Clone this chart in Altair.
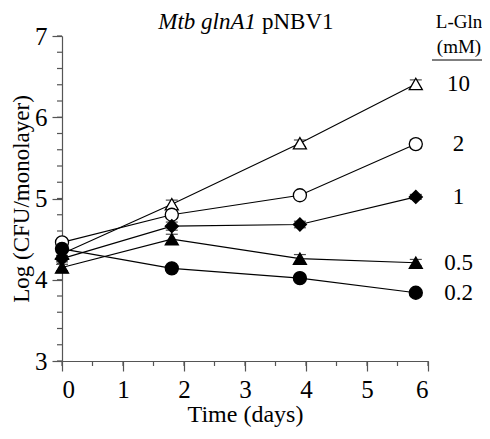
import altair as alt
import pandas as pd

days = [0, 1.8, 3.9, 5.8]
series = ["10", "2", "1", "0.5", "0.2"]
gln10 = [4.32, 4.93, 5.68, 6.41]
gln2 = [4.46, 4.80, 5.04, 5.67]
gln1 = [4.26, 4.66, 4.68, 5.02]
gln05 = [4.15, 4.50, 4.26, 4.21]
gln02 = [4.38, 4.14, 4.02, 3.84]
err10 = [0.04, 0.05, 0.04, 0.05]
err2 = [0.04, 0.04, 0.04, 0.05]
err1 = [0.04, 0.05, 0.04, 0.03]
err05 = [0.04, 0.06, 0.05, 0.04]
err02 = [0.04, 0.03, 0.03, 0.03]
shapes = ["triangle-up", "circle", "diamond", "triangle-up", "circle"]
fills = ["white", "white", "black", "black", "black"]
label_x = 6.5
y_major = [3, 4, 5, 6, 7]
y_minor = [round(3 + 0.2 * i, 1) for i in range(21)]
x_major = [0, 1, 2, 3, 4, 5, 6]
x_minor = [0.5 * i for i in range(13)]

vals = [gln10, gln2, gln1, gln05, gln02]
errs = [err10, err2, err1, err05, err02]
rows = []
for s, v, e in zip(series, vals, errs):
    for d, yv, ev in zip(days, v, e):
        rows.append({"series": s, "day": d, "val": yv, "lo": yv - ev, "hi": yv + ev})
df = pd.DataFrame(rows)
lab = pd.DataFrame({"series": series, "day": [label_x] * 5, "val": [v[-1] for v in vals]})

FONT = "Liberation Serif"
AX = "#555"
xs = alt.Scale(domain=[0, 6], nice=False, zero=False)
ys = alt.Scale(domain=[3, 7], nice=False, zero=False)
shape_scale = alt.Scale(domain=series, range=shapes)
fill_scale = alt.Scale(domain=series, range=fills)

xax = alt.Axis(values=x_major, tickSize=10, title="Time (days)", format="d",
               labelPadding=6, titlePadding=0, labelFontSize=25, titleFontSize=24)
yax = alt.Axis(values=y_major, tickSize=10, title="Log (CFU/monolayer)", format="d",
               labelPadding=5, titlePadding=1, labelFontSize=25, titleFontSize=23)

base = alt.Chart(df)
lines = base.mark_line(color="black", strokeWidth=1.1).encode(
    x=alt.X("day:Q", scale=xs, axis=xax),
    y=alt.Y("val:Q", scale=ys, axis=yax),
    detail="series:N",
)
yminor = alt.Chart(pd.DataFrame({"v": y_minor})).mark_rule(color=AX, strokeWidth=1.2).encode(
    y="v:Q", x=alt.value(-5), x2=alt.value(0))
xminor = alt.Chart(pd.DataFrame({"v": x_minor})).mark_rule(color=AX, strokeWidth=1.2).encode(
    x="v:Q", y=alt.value(325), y2=alt.value(330))
rules = base.mark_rule(color="black", strokeWidth=1.1).encode(
    x="day:Q", y="lo:Q", y2="hi:Q")
cap_lo = base.mark_tick(color="black", orient="horizontal", size=12, thickness=1.2).encode(
    x="day:Q", y="lo:Q")
cap_hi = base.mark_tick(color="black", orient="horizontal", size=12, thickness=1.2).encode(
    x="day:Q", y="hi:Q")
points = base.mark_point(filled=True, size=170, stroke="black", strokeWidth=1.3, opacity=1).encode(
    x="day:Q", y="val:Q",
    shape=alt.Shape("series:N", scale=shape_scale, legend=None),
    fill=alt.Fill("series:N", scale=fill_scale, legend=None),
)
labels = alt.Chart(lab).mark_text(font=FONT, fontSize=23, align="center", baseline="middle").encode(
    x="day:Q", y="val:Q", text="series:N")

one = pd.DataFrame({"a": [0]})
t1 = alt.Chart(one).mark_text(font=FONT, fontSize=23, fontStyle="italic", align="right",
                              baseline="alphabetic", text="Mtb glnA1").encode(
    x=alt.value(194), y=alt.value(-7))
t2 = alt.Chart(one).mark_text(font=FONT, fontSize=23, align="left",
                              baseline="alphabetic", text="pNBV1").encode(
    x=alt.value(200), y=alt.value(-7))
h1 = alt.Chart(one).mark_text(font=FONT, fontSize=19, align="center",
                              baseline="alphabetic", text="L-Gln").encode(
    x=alt.value(397), y=alt.value(-8))
h2 = alt.Chart(one).mark_text(font=FONT, fontSize=19, align="center",
                              baseline="alphabetic", text="(mM)").encode(
    x=alt.value(397), y=alt.value(17))
ul = alt.Chart(one).mark_rule(color="black", strokeWidth=1).encode(
    x=alt.value(370), x2=alt.value(427), y=alt.value(24))

chart = alt.layer(lines, yminor, xminor, rules, cap_lo, cap_hi, points, labels, t1, t2, h1, h2, ul).properties(
    width=366, height=325,
    padding={"left": 54, "top": 28, "right": 54, "bottom": 70},
    autosize=alt.AutoSizeParams(type="none"),
).configure_view(stroke=None).configure_axis(
    grid=False, domainColor=AX, tickColor=AX, domainWidth=1.2, tickWidth=1.2,
    labelFont=FONT, labelColor="black",
    titleFont=FONT, titleFontWeight="normal", titleColor="black",
)

chart.save("out.html", embed_options={"renderer": "svg", "actions": False})
